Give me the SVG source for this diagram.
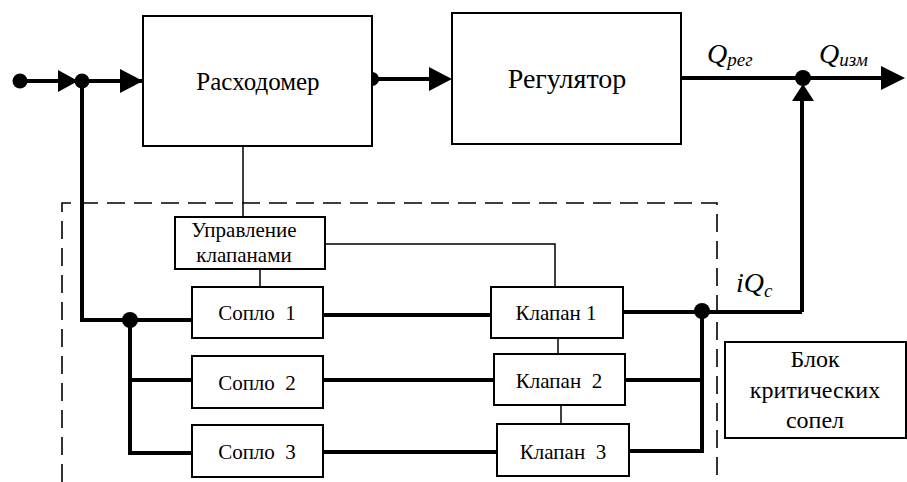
<svg xmlns="http://www.w3.org/2000/svg" width="907" height="482" viewBox="0 0 907 482">
<style>
.box{fill:#fff;stroke:#000;stroke-width:2}
.thick{fill:none;stroke:#000;stroke-width:4}
.thin{fill:none;stroke:#000;stroke-width:1.5}
.dash{fill:none;stroke:#000;stroke-width:1.6;stroke-dasharray:18 9}
.dot{fill:#000}
text{fill:#000;text-anchor:middle}
.lab{font-style:italic;text-anchor:start}
</style>
<rect width="907" height="482" fill="#fff"/>
<g id="boundary">
<path class="dash" d="M62,482 V203 H717 V482"/>
</g>
<g id="connectors">
<path class="thick" d="M20,81 H143"/>
<path class="thick" d="M82,81 V320 H192"/>
<path class="thick" d="M130,320 V453 H192"/>
<path class="thick" d="M130,380 H192"/>
<path class="thick" d="M372,79 H440"/>
<path class="thick" d="M681,78 H890"/>
<path class="thick" d="M802,312 V98"/>
<path class="thick" d="M323,315 H491"/>
<path class="thick" d="M323,380 H494"/>
<path class="thick" d="M323,452 H497"/>
<path class="thick" d="M623,312 H802"/>
<path class="thick" d="M702,312 V451 H629"/>
<path class="thick" d="M625,380 H702"/>
<path class="thin" d="M243,146 V217"/>
<path class="thin" d="M260,269 V287"/>
<path class="thin" d="M325,244 H555 V287"/>
<path class="thin" d="M558,338 V354"/>
<path class="thin" d="M561,405 V424"/>
<circle class="dot" cx="20" cy="81" r="7.5"/>
<polygon class="dot" points="58,70 78,81 58,92"/>
<circle class="dot" cx="82" cy="81" r="7.5"/>
<polygon class="dot" points="120,69 143,81 120,93"/>
<path class="dot" d="M368,72 H372 A7,7 0 0 1 372,86 H368 Z"/>
<polygon class="dot" points="429,67 452,79 429,91"/>
<circle class="dot" cx="803" cy="78" r="8"/>
<polygon class="dot" points="881,66 905,78 881,90"/>
<polygon class="dot" points="792,101 803,84 814,101"/>
<circle class="dot" cx="130" cy="320" r="8"/>
<circle class="dot" cx="702" cy="311" r="8"/>
</g>
<g font-family="'Liberation Serif', serif">
<g id="rashodomer">
<rect class="box" x="143" y="16" width="229" height="130"/>
<text x="258" y="90" font-size="25">Расходомер</text>
</g>
<g id="regulator">
<rect class="box" x="452" y="13" width="229" height="131"/>
<text x="567" y="88" font-size="28">Регулятор</text>
</g>
<g id="upravlenie">
<rect class="box" x="175" y="217" width="150" height="52"/>
<text x="244" y="237" font-size="21">Управление</text>
<text x="244" y="262" font-size="21">клапанами</text>
</g>
<g id="soplo1">
<rect class="box" x="192" y="287" width="131" height="51"/>
<text x="257" y="320" font-size="21" xml:space="preserve">Сопло  1</text>
</g>
<g id="soplo2">
<rect class="box" x="192" y="356" width="131" height="52"/>
<text x="257" y="390" font-size="21" xml:space="preserve">Сопло  2</text>
</g>
<g id="soplo3">
<rect class="box" x="192" y="425" width="131" height="52"/>
<text x="257" y="459" font-size="21" xml:space="preserve">Сопло  3</text>
</g>
<g id="klapan1">
<rect class="box" x="491" y="287" width="132" height="51"/>
<text x="556" y="320" font-size="21">Клапан 1</text>
</g>
<g id="klapan2">
<rect class="box" x="494" y="354" width="131" height="51"/>
<text x="559" y="388" font-size="21" xml:space="preserve">Клапан  2</text>
</g>
<g id="klapan3">
<rect class="box" x="497" y="424" width="132" height="52"/>
<text x="563" y="459" font-size="21" xml:space="preserve">Клапан  3</text>
</g>
<g id="blok">
<rect class="box" x="725" y="342" width="181" height="96"/>
<text x="815" y="367" font-size="24">Блок</text>
<text x="815" y="398" font-size="24">критических</text>
<text x="815" y="428" font-size="24">сопел</text>
</g>
<g id="labels">
<text class="lab" x="707" y="63" font-size="28">Q<tspan font-size="19" dy="3">рег</tspan></text>
<text class="lab" x="819" y="63" font-size="28">Q<tspan font-size="19" dy="3">изм</tspan></text>
<text class="lab" x="736" y="292" font-size="28">iQ<tspan font-size="19" dy="5">c</tspan></text>
</g>
</g>
</svg>
